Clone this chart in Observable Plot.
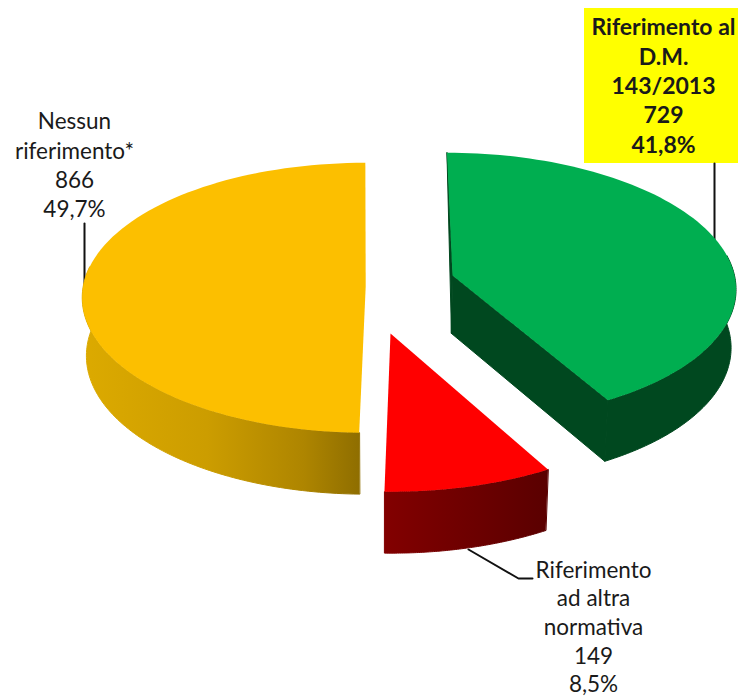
<!DOCTYPE html>
<html><head><meta charset="utf-8">
<script src="https://cdn.jsdelivr.net/npm/d3@7"></script>
<script src="https://cdn.jsdelivr.net/npm/@observablehq/plot@0.6"></script>
<style>html,body{margin:0;padding:0;background:#fff}svg{display:block}</style>
</head><body><div id="chart"></div>
<script>
const categories = ["Riferimento al\nD.M.\n143/2013", "Riferimento\nad altra\nnormativa", "Nessun\nriferimento*"];
const counts = [729, 149, 866];

// Scene layout, kept apart from the data
const vanishX = 380, persp = 0.0833, steps = 90, depth = 58;
const pieces = [
  {cx: 452, cy: 275, R: 282, Rq: 133, shear: 0, top: "#00ae50", rim: "#00481f", cut: "#00481f"},
  {cx: 390, cy: 333, R: 295, Rq: 145, shear: 0, top: "#ff0000", rim: "url(#rimRed)", cut: null},
  {cx: 365.2, cy: 286, R: 282.5, Rq: 134, shear: 1.5, top: "#fcbf00", rim: "url(#rimGold)", cut: null}
];
const labelAt = [
  {x: 663, y: 28, fontWeight: "bold", fontSize: 23, leading: 29.3},
  {x: 593, y: 571, fontWeight: "normal", fontSize: 22.5, leading: 28.6},
  {x: 74, y: 122, fontWeight: "normal", fontSize: 22.5, leading: 29.3}
];
const leaders = [
  [[714, 163], [714, 240]],
  [[468, 549], [518, 578], [532, 578]],
  [[84, 223], [84, 285]]
];

// Project an angle on a disc (0 = far side, clockwise) to picture space
function project(p, a, r, lifted) {
  const X = r * Math.sin(a), Y = -r * Math.cos(a);
  const s = 1 / (1 - persp * Y);
  let x = vanishX + (p.cx - vanishX + p.R * X) * s + p.shear * Y;
  let y = p.cy + p.Rq * Y * s;
  if (lifted) { x = vanishX + (x - vanishX) * 0.986; y += depth * (1 + 0.06 * Y); }
  return {x, y};
}
const arc = (p, a0, a1, lifted) =>
  d3.range(steps + 1).map(i => project(p, a0 + (a1 - a0) * i / steps, 1, lifted));

const angles = d3.pie().sort(null).startAngle(0).endAngle(2 * Math.PI)(counts);
const total = d3.sum(counts);
const fmtPct = v => (100 * v / total).toFixed(1).replace(".", ",") + "%";

const face = (pts, fill) => Plot.line(pts, {x: "x", y: "y", fill, stroke: fill, strokeWidth: 1, curve: "linear-closed"});

const marks = [];
pieces.forEach((p, i) => {
  const {startAngle: a0, endAngle: a1} = angles[i];
  const centre = project(p, 0, 0, false), centreLow = project(p, 0, 0, true);
  if (p.cut) {
    marks.push(face([project(p, a0, 1, false), centre, centreLow], p.cut));
    marks.push(face([centre, project(p, a1, 1, false), project(p, a1, 1, true), centreLow], p.cut));
  }
  // only the near part of the rim can be seen
  const r0 = Math.max(a0, Math.PI / 2 - 0.15), r1 = Math.min(a1, 3 * Math.PI / 2 + 0.15);
  marks.push(face([...arc(p, r0, r1, false), ...arc(p, r0, r1, true).reverse()], p.rim));
  marks.push(Plot.line([centre, ...arc(p, a0, a1, false)], {x: "x", y: "y", fill: p.top, stroke: "none", curve: "linear-closed"}));
});

const plot = Plot.plot({
  width: 738, height: 699, margin: 0,
  style: {background: "#fff"},
  x: {domain: [0, 738], range: [0, 738], axis: null},
  y: {domain: [0, 699], range: [0, 699], axis: null},
  marks: [
    Plot.rect([{x1: 584, x2: 738, y1: 8, y2: 163}], {x1: "x1", x2: "x2", y1: "y1", y2: "y2", fill: "#ffff00"}),
    ...leaders.map(l => Plot.line(l, {x: d => d[0], y: d => d[1], stroke: "#111", strokeWidth: 2})),
    ...marks,
    ...categories.map((c, i) => Plot.text([`${c}\n${counts[i]}\n${fmtPct(counts[i])}`], {
      x: labelAt[i].x, y: labelAt[i].y, text: d => d,
      fontFamily: "Lato", fontSize: labelAt[i].fontSize, fontWeight: labelAt[i].fontWeight,
      fill: "#1a1a1a", lineHeight: labelAt[i].leading / labelAt[i].fontSize, lineAnchor: "top", dy: -14
    }))
  ]
});

const defs = d3.select(plot).insert("defs", ":first-child");
const gradient = (id, stops) => {
  const g = defs.append("linearGradient").attr("id", id).attr("x1", 0).attr("x2", 1).attr("y1", 0).attr("y2", 0);
  stops.forEach(([o, c]) => g.append("stop").attr("offset", o).attr("stop-color", c));
};
gradient("rimGold", [[0, "#dcaa00"], [0.45, "#cc9d00"], [0.8, "#ae8500"], [1, "#8f6e00"]]);
gradient("rimRed", [[0, "#820000"], [1, "#5a0000"]]);
document.getElementById("chart").append(plot);
</script></body></html>
